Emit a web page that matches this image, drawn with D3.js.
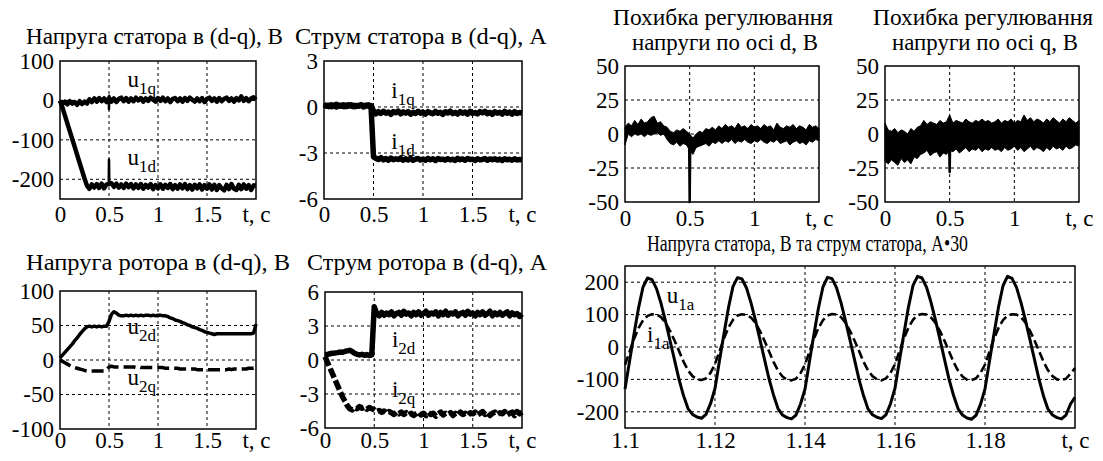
<!DOCTYPE html>
<html>
<head>
<meta charset="utf-8">
<script src="https://cdn.jsdelivr.net/npm/d3@7"></script>
<style>
  body { margin: 0; background: #fff; }
  svg, text { font-family: "Liberation Serif", "DejaVu Serif", "Times New Roman", serif !important; fill: #000; }
</style>
</head>
<body>
<svg id="chart" width="1103" height="461"></svg>
<script>
// ---- data ----
// panels 1-4: samples every 0.025 s from 0 to 2 s
const dqStep = 0.025;

const u1q = [-1,-9,-3,-10,-2,-8,-4,-11,-2,-9,
  -3,-8,3,-4,5,-3,6,-2,5,-4,
  6,-3,5,-4,4,7,-2,6,-3,5,
  -2,7,0,6,-3,5,-1,7,2,-3,
  6,-1,7,-2,5,-4,4,6,-2,5,
  -3,6,-1,7,2,-3,5,-2,6,-4,
  4,7,-1,5,-3,6,-2,4,7,-1,
  5,-3,6,0,10,-1,6,-2,5,8,
  2];
const u1d = [0,-18,-38,-58,-78,-98,-118,-138,-158,-178,
  -198,-216,-224,-213,-221,-212,-222,-211,-223,-213,
  -212,-210,-219,-211,-221,-213,-222,-211,-220,-212,
  -223,-213,-222,-212,-224,-214,-221,-212,-225,-215,
  -223,-213,-224,-214,-222,-212,-225,-215,-224,-213,
  -223,-212,-225,-215,-226,-214,-223,-213,-226,-215,
  -224,-213,-226,-214,-227,-215,-223,-228,-214,-225,
  -212,-224,-227,-214,-225,-213,-224,-215,-227,-216,
  -215];
const u1qSpike = [[0.498, 2], [0.5, -22], [0.502, 12], [0.504, 2]];
const u1dSpike = [[0.497, -215], [0.5, -150], [0.503, -212]];

const i1q = [0.15,0.05,0.12,0.02,0.10,0.18,0.06,0.12,0.02,0.10,
  0.15,0.05,0.12,0.03,0.10,0.16,0.06,0.12,0.04,0.10,
  -0.25,-0.45,-0.30,-0.42,-0.28,-0.40,-0.33,-0.48,-0.30,-0.38,
  -0.27,-0.45,-0.32,-0.40,-0.30,-0.47,-0.35,-0.42,-0.28,-0.40,
  -0.33,-0.46,-0.30,-0.38,-0.44,-0.29,-0.41,-0.34,-0.48,-0.31,
  -0.39,-0.27,-0.43,-0.35,-0.46,-0.30,-0.40,-0.33,-0.47,-0.29,
  -0.42,-0.36,-0.45,-0.30,-0.38,-0.28,-0.44,-0.34,-0.48,-0.31,
  -0.40,-0.35,-0.46,-0.29,-0.41,-0.33,-0.47,-0.30,-0.42,-0.36,
  -0.40];
const i1d = [0.05,0.12,0.02,0.15,0.08,0.00,0.12,0.05,0.15,0.03,
  0.08,0.14,0.02,0.10,0.05,0.12,0.00,0.08,0.14,0.05,
  -3.25,-3.35,-3.42,-3.30,-3.45,-3.36,-3.48,-3.33,-3.44,-3.38,
  -3.42,-3.35,-3.47,-3.38,-3.45,-3.34,-3.48,-3.40,-3.36,-3.46,
  -3.39,-3.47,-3.35,-3.44,-3.38,-3.49,-3.36,-3.43,-3.40,-3.46,
  -3.37,-3.45,-3.41,-3.48,-3.35,-3.44,-3.39,-3.47,-3.36,-3.43,
  -3.40,-3.48,-3.37,-3.45,-3.42,-3.36,-3.47,-3.39,-3.44,-3.38,
  -3.46,-3.40,-3.49,-3.37,-3.44,-3.41,-3.47,-3.38,-3.45,-3.42,
  -3.44];

const u2d = [3,7,11,15,19,23,28,32,37,41,
  45,48,49,48,49,48,49,48,49,49,
  56,66,70,68,65,64,64,65,64,65,
  64,65,64,65,64,65,65,64,65,64,
  65,65,64,64,63,61,60,58,57,56,
  54,53,51,50,48,47,46,44,43,41,
  40,39,38,37,38,38,38,38,38,38,
  38,38,38,38,38,38,38,38,38,39,
  52];
const u2q = [0,-2,-4,-6,-8,-10,-11,-12,-13,-14,
  -15,-16,-16,-16,-16,-16,-16,-16,-16,-15,
  -10,-9,-10,-10,-10,-10,-10,-10,-10,-10,
  -10,-11,-10,-11,-11,-11,-11,-11,-11,-11,
  -11,-11,-11,-12,-12,-12,-12,-12,-12,-13,
  -13,-13,-13,-13,-13,-13,-14,-14,-14,-14,
  -14,-14,-14,-14,-14,-14,-14,-14,-14,-13,
  -14,-13,-13,-13,-13,-13,-13,-12,-12,-12,
  -11];

const i2d = [0.45,0.5,0.55,0.6,0.62,0.65,0.7,0.68,0.75,0.8,
  0.85,0.75,0.6,0.5,0.45,0.5,0.42,0.48,0.4,0.45,
  4.7,4.1,3.9,4.2,3.95,4.15,4.0,4.25,3.9,4.1,
  4.2,3.95,4.3,4.05,4.15,3.9,4.2,4.0,4.25,3.95,
  4.1,4.3,3.95,4.15,4.05,4.25,3.9,4.2,4.0,4.3,
  3.95,4.15,4.05,4.25,3.9,4.1,4.2,3.95,4.3,4.05,
  4.15,3.9,4.2,4.0,4.25,3.95,4.1,4.3,3.9,4.15,
  4.0,4.2,3.95,4.1,4.25,3.9,4.15,4.0,4.1,3.85,
  4.05];
const i2q = [0.3,-0.2,-0.7,-1.2,-1.7,-2.2,-2.7,-3.2,-3.6,-4.0,
  -4.3,-4.4,-4.2,-4.3,-4.1,-4.25,-4.15,-4.35,-4.2,-4.3,
  -4.4,-4.55,-4.45,-4.6,-4.5,-4.7,-4.55,-4.65,-4.8,-4.6,
  -4.75,-4.6,-4.8,-4.65,-4.85,-4.7,-4.9,-4.75,-4.6,-4.85,
  -4.7,-4.9,-4.65,-4.8,-4.7,-4.95,-4.75,-4.6,-4.85,-4.7,
  -4.8,-4.65,-4.9,-4.7,-4.85,-4.6,-4.8,-4.7,-4.9,-4.65,
  -4.75,-4.6,-4.85,-4.7,-4.55,-4.8,-4.65,-4.9,-4.7,-4.6,
  -4.8,-4.65,-4.75,-4.55,-4.85,-4.7,-4.6,-4.9,-4.55,-4.75,
  -4.6];

// panels 5-6: error band (upper / lower edge), every 0.025 s from 0 to 1.5 s
const errStep = 0.025;
const dUp = [5,8,6,10,7,11,8,9,12,13,
  8,9,6,5,2,1,3,2,4,2,
  0,-3,0,2,1,4,3,5,3,6,
  4,7,5,6,4,8,5,6,4,7,
  5,6,4,7,5,6,3,8,5,4,
  6,5,7,4,6,5,3,7,5,6,
  4];
const dLo = [-8,0,-2,0,-1,0,-2,0,-1,0,
  1,-1,0,-4,-7,-8,-6,-9,-7,-8,
  -12,-15,-10,-9,-8,-7,-9,-6,-7,-5,
  -7,-5,-6,-4,-7,-5,-6,-4,-6,-7,
  -5,-6,-4,-6,-7,-5,-6,-4,-7,-6,
  -5,-8,-6,-5,-7,-6,-8,-5,-6,-4,
  -5];
const dSpike = [[0.496, -6], [0.5, -50], [0.504, -10]];

const qUp = [8,3,2,4,1,3,2,0,4,2,
  5,6,10,7,9,8,7,10,8,9,
  14,8,10,9,8,11,9,8,10,9,
  11,9,10,8,9,11,8,10,9,11,
  8,10,9,14,10,12,9,11,10,8,
  11,9,12,10,8,11,9,12,10,8,
  10];
const qLo = [-20,-22,-19,-21,-23,-18,-21,-19,-22,-17,
  -18,-15,-14,-12,-16,-14,-13,-17,-14,-15,
  -12,-13,-11,-14,-12,-10,-13,-11,-12,-10,
  -13,-11,-12,-10,-12,-11,-13,-10,-12,-11,
  -9,-12,-10,-13,-11,-9,-12,-10,-11,-13,
  -10,-12,-9,-11,-10,-12,-9,-11,-10,-8,
  -9];
const qSpike = [[0.497, -12], [0.5, -28], [0.503, -10]];

// panel 7: stator phase voltage and current*30, every 1 ms from 1.1 s
const acStart = 1.1, acStep = 0.001;
const u1a = [-130,-45,40,120,185,213,208,180,135,80,20,-40,-100,-150,-190,-208,-216,-220,-208,-175,
  -128,-42,42,122,187,214,210,182,136,82,22,-38,-98,-148,-190,-210,-218,-222,-210,-176,
  -130,-44,40,121,186,215,211,183,137,81,21,-39,-100,-150,-191,-209,-217,-221,-209,-175,
  -127,-41,43,124,190,218,213,185,138,83,23,-38,-99,-149,-190,-210,-219,-223,-211,-177,
  -129,-43,41,123,189,218,212,184,137,82,22,-39,-100,-151,-192,-210,-218,-222,-210,-176,
  -155];
const i1a = [-55,-15,25,58,82,96,101,100,92,75,50,20,-12,-45,-72,-90,-100,-102,-97,-80,
  -52,-13,27,60,84,97,101,99,91,74,49,19,-13,-46,-73,-91,-101,-103,-98,-81,
  -54,-14,26,59,83,97,102,100,92,75,50,20,-12,-45,-72,-90,-100,-103,-97,-80,
  -53,-13,27,60,84,98,102,100,91,74,49,19,-13,-46,-73,-91,-101,-102,-97,-80,
  -54,-14,26,59,83,97,101,100,92,75,50,20,-12,-45,-72,-90,-100,-102,-98,-82,
  -65];

// tick values
const tTicks2 = [0, 0.5, 1, 1.5, 2];
const tTicks15 = [0, 0.5, 1, 1.5];
const tTicksAC = [1.1, 1.12, 1.14, 1.16, 1.18, 1.2];

// ---- layout ----
const FS = 23;
const FONT = '"Liberation Serif", "DejaVu Serif", "Times New Roman", serif';
const svg = d3.select("#chart").attr("font-family", FONT);

const panels = [
  { x0: 60,  x1: 256, y0: 61,  y1: 199, xd: [0, 2], yd: [-250, 100], xt: tTicks2, yt: [100, 0, -100, -200], xPad: 7 },
  { x0: 324, x1: 522, y0: 61,  y1: 199, xd: [0, 2], yd: [-6, 3], xt: tTicks2, yt: [3, 0, -3, -6], xPad: 7 },
  { x0: 60,  x1: 256, y0: 291, y1: 429, xd: [0, 2], yd: [-100, 100], xt: tTicks2, yt: [100, 50, 0, -50, -100], xPad: 3 },
  { x0: 325, x1: 522, y0: 292, y1: 428, xd: [0, 2], yd: [-6, 6], xt: tTicks2, yt: [6, 3, 0, -3, -6], xPad: 4 },
  { x0: 625, x1: 819, y0: 66,  y1: 202, xd: [0, 1.5], yd: [-50, 50], xt: tTicks15, yt: [50, 25, 0, -25, -50], xPad: 8 },
  { x0: 885, x1: 1079, y0: 66, y1: 202, xd: [0, 1.5], yd: [-50, 50], xt: tTicks15, yt: [50, 25, 0, -25, -50], xPad: 8 },
  { x0: 625, x1: 1075, y0: 266, y1: 428, xd: [1.1, 1.2], yd: [-250, 250], xt: tTicksAC, yt: [200, 100, 0, -100, -200], xPad: 4 }
];

panels.forEach(p => {
  p.x = d3.scaleLinear().domain(p.xd).range([p.x0, p.x1]);
  p.y = d3.scaleLinear().domain(p.yd).range([p.y1, p.y0]);
  p.g = svg.append("g");

  // dashed grid
  p.g.selectAll(".gx")
    .data(p.xt.filter(d => d > p.xd[0] + 1e-9 && d < p.xd[1] - 1e-9))
    .enter().append("line")
    .attr("x1", d => p.x(d)).attr("x2", d => p.x(d))
    .attr("y1", p.y0).attr("y2", p.y1)
    .attr("stroke", "#000").attr("stroke-width", 1).attr("stroke-dasharray", "3,3");
  p.g.selectAll(".gy")
    .data(p.yt.filter(d => d > p.yd[0] && d < p.yd[1]))
    .enter().append("line")
    .attr("x1", p.x0).attr("x2", p.x1)
    .attr("y1", d => p.y(d)).attr("y2", d => p.y(d))
    .attr("stroke", "#000").attr("stroke-width", 1).attr("stroke-dasharray", "3,3");

  p.data = p.g.append("g");
});

function finishPanel(p) {
  p.g.append("rect")
    .attr("x", p.x0).attr("y", p.y0)
    .attr("width", p.x1 - p.x0).attr("height", p.y1 - p.y0)
    .attr("fill", "none").attr("stroke", "#000").attr("stroke-width", 1.5);

  const last = p.xt.length - 1;
  const ax = p.g.append("g")
    .attr("transform", `translate(0,${p.y1})`)
    .call(d3.axisBottom(p.x).tickValues(p.xt).tickSize(0).tickPadding(p.xPad)
      .tickFormat((d, i) => i === last ? "t, c" : String(d)));
  const ay = p.g.append("g")
    .attr("transform", `translate(${p.x0},0)`)
    .call(d3.axisLeft(p.y).tickValues(p.yt).tickSize(0).tickPadding(6)
      .tickFormat(d => String(d)));
  [ax, ay].forEach(a => {
    a.attr("font-family", FONT).attr("font-size", FS);
    a.select(".domain").remove();
    a.selectAll("text").attr("fill", "#000");
  });
}

function series(vals, step, t0) {
  return vals.map((v, i) => [t0 + i * step, v]);
}

function drawLine(p, pts, width, dash) {
  const line = d3.line().x(d => p.x(d[0])).y(d => p.y(d[1]));
  p.data.append("path")
    .attr("d", line(pts))
    .attr("fill", "none").attr("stroke", "#000")
    .attr("stroke-width", width)
    .attr("stroke-linejoin", "round")
    .attr("stroke-dasharray", dash || null);
}

function drawBand(p, up, lo, step) {
  const area = d3.area()
    .x((d, i) => p.x(i * step))
    .y0((d, i) => p.y(lo[i]))
    .y1((d, i) => p.y(up[i]));
  p.data.append("path").attr("d", area(up)).attr("fill", "#000")
    .attr("stroke", "#000").attr("stroke-width", 1);
}

function curveLabel(p, t, v, main, sub) {
  const txt = p.g.append("text")
    .attr("x", p.x(t)).attr("y", p.y(v))
    .attr("font-size", FS);
  txt.append("tspan").text(main);
  txt.append("tspan").attr("dy", 7).attr("font-size", 17).text(sub);
}

// panel 1: stator voltage d-q
drawLine(panels[0], series(u1q, dqStep, 0), 4.5);
drawLine(panels[0], u1qSpike, 2.5);
drawLine(panels[0], series(u1d, dqStep, 0), 4.5);
drawLine(panels[0], u1dSpike, 2.5);
curveLabel(panels[0], 0.69, 34, "u", "1q");
curveLabel(panels[0], 0.69, -164, "u", "1d");

// panel 2: stator current d-q
drawLine(panels[1], series(i1q, dqStep, 0), 5.5);
drawLine(panels[1], series(i1d, dqStep, 0), 5.5);
curveLabel(panels[1], 0.68, 0.6, "i", "1q");
curveLabel(panels[1], 0.68, -2.74, "i", "1d");

// panel 3: rotor voltage d-q
drawLine(panels[2], series(u2d, dqStep, 0), 3.5);
drawLine(panels[2], series(u2q, dqStep, 0), 3.5, "12,5");
curveLabel(panels[2], 0.69, 37, "u", "2d");
curveLabel(panels[2], 0.69, -36, "u", "2q");

// panel 4: rotor current d-q
drawLine(panels[3], series(i2d, dqStep, 0), 5.5);
drawLine(panels[3], series(i2q, dqStep, 0), 5.5, "10,3");
curveLabel(panels[3], 0.68, 1.17, "i", "2d");
curveLabel(panels[3], 0.68, -3.24, "i", "2q");

// panels 5-6: regulation errors
drawBand(panels[4], dUp, dLo, errStep);
drawLine(panels[4], dSpike, 2.5);
drawBand(panels[5], qUp, qLo, errStep);
drawLine(panels[5], qSpike, 2.5);

// panel 7: phase voltage and current
drawLine(panels[6], series(u1a, acStep, acStart), 3);
drawLine(panels[6], series(i1a, acStep, acStart), 2.6, "9,4");
curveLabel(panels[6], 1.1093, 136, "u", "1a");
curveLabel(panels[6], 1.1049, 14.5, "i", "1a");

panels.forEach(finishPanel);

// titles, fitted to the widths seen in the picture
function title(x, y, s, width) {
  svg.append("text").attr("x", x).attr("y", y)
    .attr("font-size", FS)
    .attr("textLength", width).attr("lengthAdjust", "spacingAndGlyphs")
    .text(s);
}
title(26, 44, "Напруга статора в (d-q), В", 257);
title(295, 44, "Струм статора в (d-q), А", 252);
title(26, 270, "Напруга ротора в (d-q), В", 264);
title(307, 270, "Струм ротора в (d-q), А", 240);
title(613, 25, "Похибка регулювання", 220);
title(632, 50, "напруги по осі d, В", 186);
title(873, 25, "Похибка регулювання", 220);
title(892, 50, "напруги по осі q, В", 186);
title(647, 251, "Напруга статора, В та струм статора, А•30", 321);
</script>
</body>
</html>
